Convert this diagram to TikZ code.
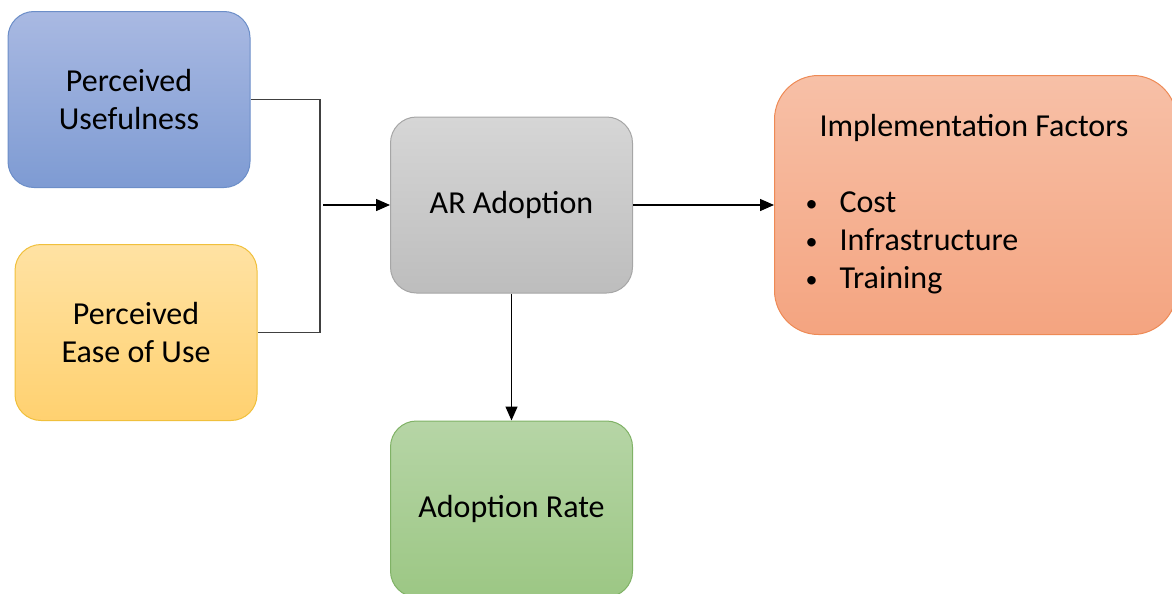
\documentclass[tikz,border=0pt]{standalone}
\usepackage{fontspec}
\setmainfont{Carlito}
\usepackage{tikz}
\usetikzlibrary{arrows.meta,positioning}
\definecolor{puTop}{RGB}{169,185,226}
\definecolor{puBot}{RGB}{126,155,211}
\definecolor{puLine}{RGB}{108,142,200}
\definecolor{peTop}{RGB}{255,226,163}
\definecolor{peBot}{RGB}{255,209,112}
\definecolor{peLine}{RGB}{240,192,60}
\definecolor{arTop}{RGB}{214,214,214}
\definecolor{arBot}{RGB}{189,189,189}
\definecolor{arLine}{RGB}{166,166,166}
\definecolor{rateTop}{RGB}{182,213,166}
\definecolor{rateBot}{RGB}{156,199,132}
\definecolor{rateLine}{RGB}{128,178,102}
\definecolor{implTop}{RGB}{247,192,167}
\definecolor{implBot}{RGB}{244,164,128}
\definecolor{implLine}{RGB}{238,138,85}
\definecolor{wire}{RGB}{64,64,64}
\newcommand{\itembul}{\makebox[17pt][l]{\raisebox{0.8pt}{\fontsize{12}{12}\selectfont\textbullet}}}

\begin{document}
\begin{tikzpicture}[x=0.5pt,y=-0.5pt,
  blk/.style={rounded corners=13pt,line width=0.5pt,align=center,
    minimum width=121pt,minimum height=88pt,inner sep=0pt,
    font=\fontsize{16}{19}\selectfont},
  link/.style={-{Triangle[length=7pt,width=6pt]},line width=0.7pt}]
\clip (0,0) rectangle (1172,594);
\node[blk,draw=puLine,top color=puTop,bottom color=puBot] (pu) at (129,99.5) {Perceived\\Usefulness};
\node[blk,draw=peLine,top color=peTop,bottom color=peBot] (peu) at (136,332.5) {Perceived\\Ease of Use};
\node[blk,draw=arLine,top color=arTop,bottom color=arBot] (ar) at (511.5,205) {AR Adoption};
\node[blk,draw=rateLine,top color=rateTop,bottom color=rateBot,below=63.5pt of ar] (rate) {Adoption Rate};
\node[blk,draw=implLine,top color=implTop,bottom color=implBot,rounded corners=22pt,
  minimum width=201pt,minimum height=129.5pt,right=70.5pt of ar] (impl)
  {\begin{tabular}{@{}l@{}}
  \hspace*{7pt}Implementation Factors\hspace*{8.5pt}\\[19pt]
  \itembul Cost\\
  \itembul Infrastructure\\
  \itembul Training
  \end{tabular}};
\coordinate (jbot) at (320,332.5);
\coordinate (jin) at (323,205);
\draw[wire,line width=0.7pt] (pu.east) -| (jbot) -- (peu.east);
\draw[link] (jin) -- (ar.west);
\draw[link] (ar.east) -- (impl.west);
\draw[link] (ar.south) -- (rate.north);
\end{tikzpicture}
\end{document}
